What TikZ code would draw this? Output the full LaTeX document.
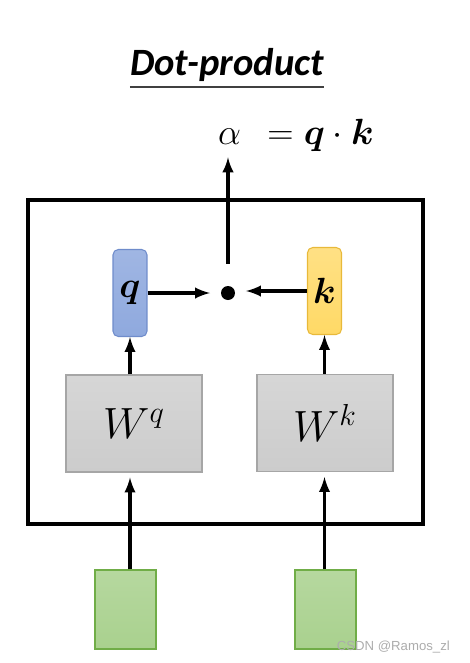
\documentclass[tikz,border=0pt]{standalone}
\usepackage{amsmath, bm}
\usepackage{fontspec}
\usepackage{tikz}
\usetikzlibrary{arrows}
\newfontfamily\titlefont{Carlito}
\newfontfamily\markfont{Liberation Sans}

\definecolor{qblue}{HTML}{8FA9DE}
\definecolor{qedge}{HTML}{6F8CCB}
\definecolor{kyellow}{HTML}{FFD966}
\definecolor{kedge}{HTML}{E8B93A}
\definecolor{wgray}{HTML}{CCCCCC}
\definecolor{xgreen}{HTML}{A9D18E}
\definecolor{xedge}{HTML}{70AD47}

\begin{document}
\begin{tikzpicture}[x=0.02cm, y=-0.02cm, -latex,
  arrow/.style={-latex, line width=1.9pt},
  vec node/.style={draw, rounded corners=3pt, line width=0.6pt, minimum width=0.68cm, minimum height=1.74cm, inner sep=0pt},
  mat node/.style={draw=gray!70, line width=0.6pt, top color=wgray!80, bottom color=wgray, minimum width=2.72cm, minimum height=1.94cm, inner sep=0pt},
  in node/.style={draw=xedge, line width=0.6pt, top color=xgreen!85, bottom color=xgreen, minimum width=1.22cm, minimum height=1.58cm, inner sep=0pt}]
\useasboundingbox (0,0) rectangle (470,663);

\node [inner sep=0pt] (title) at (227,65) {\titlefont\fontsize{22}{26}\selectfont\bfseries\itshape Dot-product};
\draw [-, line width=1.2pt, black!75] ([yshift=-0.1cm]title.south west) -- ([yshift=-0.1cm]title.south east);
\node (eq) at (296,135) {\fontsize{22}{26}\selectfont$\alpha\;\,=\bm{q}\cdot\bm{k}$};

\draw [line width=2.3pt, -] (28,200) rectangle (423,524);

\node [vec node, draw=qedge, top color=qblue!85, bottom color=qblue] (q) at (130,293) {\fontsize{22}{26}\selectfont$\bm{q}$};
\node [vec node, draw=kedge, top color=kyellow!80, bottom color=kyellow] (k) at (324.5,291) {\fontsize{22}{26}\selectfont$\bm{k}$};
\node [circle, fill, inner sep=0pt, minimum size=0.28cm] (dot) at (228,293) {};

\node [mat node] (Wq) at (134,423.5) {\fontsize{24}{28}\selectfont$W^q$};
\node [mat node] (Wk) at (325,423) {\fontsize{24}{28}\selectfont$W^k$};

\node [in node] (xq) at (125.5,609.5) {};
\node [in node] (xk) at (325.5,609.5) {};

\draw [arrow, shorten <=0.44cm] (dot) -- (dot |- eq.south);
\draw [arrow, shorten >=0.36cm] (q.east) -- (q.east -| dot);
\draw [arrow, shorten >=0.36cm] (k.west) -- (k.west -| dot);
\draw [arrow] (Wq.north -| q) -- (q.south);
\draw [arrow] (Wk.north -| k) -- (k.south);
\draw [arrow, shorten >=0.1cm] (xq.north -| 130,0) -- (Wq.south -| 130,0);
\draw [arrow, shorten >=0.1cm] (xk.north -| k) -- (Wk.south -| k);

\node [text=gray!65, anchor=east] (mark) at (456,647) {\markfont\fontsize{7.5}{9}\selectfont CSDN @Ramos\_zl};
\end{tikzpicture}
\end{document}
